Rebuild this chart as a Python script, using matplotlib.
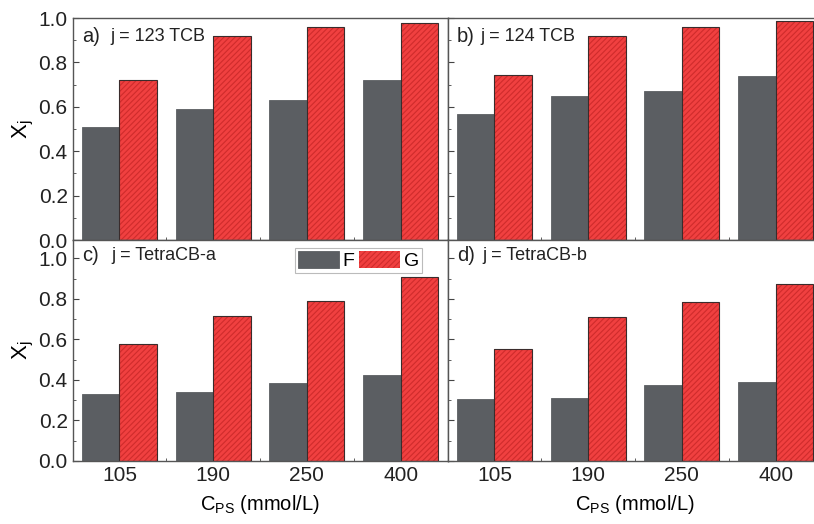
import matplotlib
matplotlib.use("Agg")
import matplotlib.pyplot as plt
import numpy as np
from matplotlib.ticker import MultipleLocator, FixedLocator

plt.rcParams['font.family'] = ['Liberation Sans', 'DejaVu Sans']
plt.rcParams['mathtext.default'] = 'regular'
plt.rcParams['hatch.linewidth'] = 0.8

categories = ['105', '190', '250', '400']
panel_tags = ['a)', 'b)', 'c)', 'd)']
panel_names = ['j = 123 TCB', 'j = 124 TCB', 'j = TetraCB-a', 'j = TetraCB-b']
F_values = [
    [0.51, 0.59, 0.63, 0.72],
    [0.567, 0.649, 0.671, 0.739],
    [0.331, 0.342, 0.384, 0.423],
    [0.305, 0.313, 0.374, 0.392],
]
G_values = [
    [0.72, 0.92, 0.958, 0.979],
    [0.745, 0.919, 0.958, 0.988],
    [0.576, 0.716, 0.792, 0.910],
    [0.553, 0.713, 0.784, 0.873],
]
series_names = ['F', 'G']

gray = '#5b5e62'
red = '#f04040'
hatch_col = '#cf2c2c'
edge = '#3a2c2c'

W, H = 814, 524
fig = plt.figure(figsize=(W / 100, H / 100), dpi=100)

def px_axes(x0, y0, x1, y1):
    return fig.add_axes([x0 / W, 1 - y1 / H, (x1 - x0) / W, (y1 - y0) / H])

axes = [
    px_axes(72.5, 18, 447.5, 240),
    px_axes(447.5, 18, 822.5, 240),
    px_axes(72.5, 240, 447.5, 461),
    px_axes(447.5, 240, 822.5, 461),
]
ylims = [1.0, 1.0, 1.091, 1.091]
text_x = [0.10, 0.087, 0.105, 0.092]
tag_y = [0.915, 0.915, 0.928, 0.928]

x = np.arange(len(categories))
bw = 0.4
for i, ax in enumerate(axes):
    bf = ax.bar(x - bw / 2, F_values[i], bw, color=gray, edgecolor=gray, linewidth=0.6, zorder=2)
    bg = ax.bar(x + bw / 2, G_values[i], bw, color=red, edgecolor=hatch_col, hatch='//////',
                linewidth=0, zorder=2)
    ax.bar(x + bw / 2, G_values[i], bw, fill=False, edgecolor=edge, linewidth=0.8, zorder=3)
    ax.set_xlim(-0.5, 3.5)
    ax.set_ylim(0, ylims[i])
    ax.yaxis.set_major_locator(FixedLocator([0, 0.2, 0.4, 0.6, 0.8, 1.0]))
    ax.yaxis.set_minor_locator(MultipleLocator(0.1))
    ax.set_xticks(x)
    ax.xaxis.set_minor_locator(FixedLocator([0.5, 1.5, 2.5]))
    ax.tick_params(which='both', direction='in', colors='#444444', labelcolor='#222222',
                   labelsize=15)
    ax.tick_params(which='major', length=4)
    ax.tick_params(which='minor', length=2.5)
    for s in ax.spines.values():
        s.set_color('#555555')
        s.set_linewidth(1.0)
    if i % 2 == 1:
        ax.set_yticklabels([])
    else:
        ax.set_yticklabels(['0.0', '0.2', '0.4', '0.6', '0.8', '1.0'])
        ax.set_ylabel('X$_j$', fontsize=16, labelpad=2)
    if i < 2:
        ax.set_xticklabels([])
    else:
        ax.set_xticklabels(categories)
        ax.set_xlabel('C$_{PS}$ (mmol/L)', fontsize=14.5, labelpad=6)
    ax.text(0.025, tag_y[i], panel_tags[i], transform=ax.transAxes, fontsize=14.5,
            va='center', ha='left', color='#222222')
    ax.text(text_x[i], tag_y[i], panel_names[i], transform=ax.transAxes, fontsize=13,
            va='center', ha='left', color='#222222')
    if i == 2:
        leg = ax.legend([bf, bg], series_names, loc='upper right',
                        bbox_to_anchor=(0.933, 0.964), ncol=2, fontsize=14,
                        handlelength=2.1, handleheight=1.0, handletextpad=0.2,
                        columnspacing=0.25, borderpad=0.15, borderaxespad=0,
                        frameon=True, fancybox=False)
        leg.get_frame().set_edgecolor('#aaaaaa')
        leg.get_frame().set_linewidth(0.8)

fig.savefig('out.png', dpi=100)
